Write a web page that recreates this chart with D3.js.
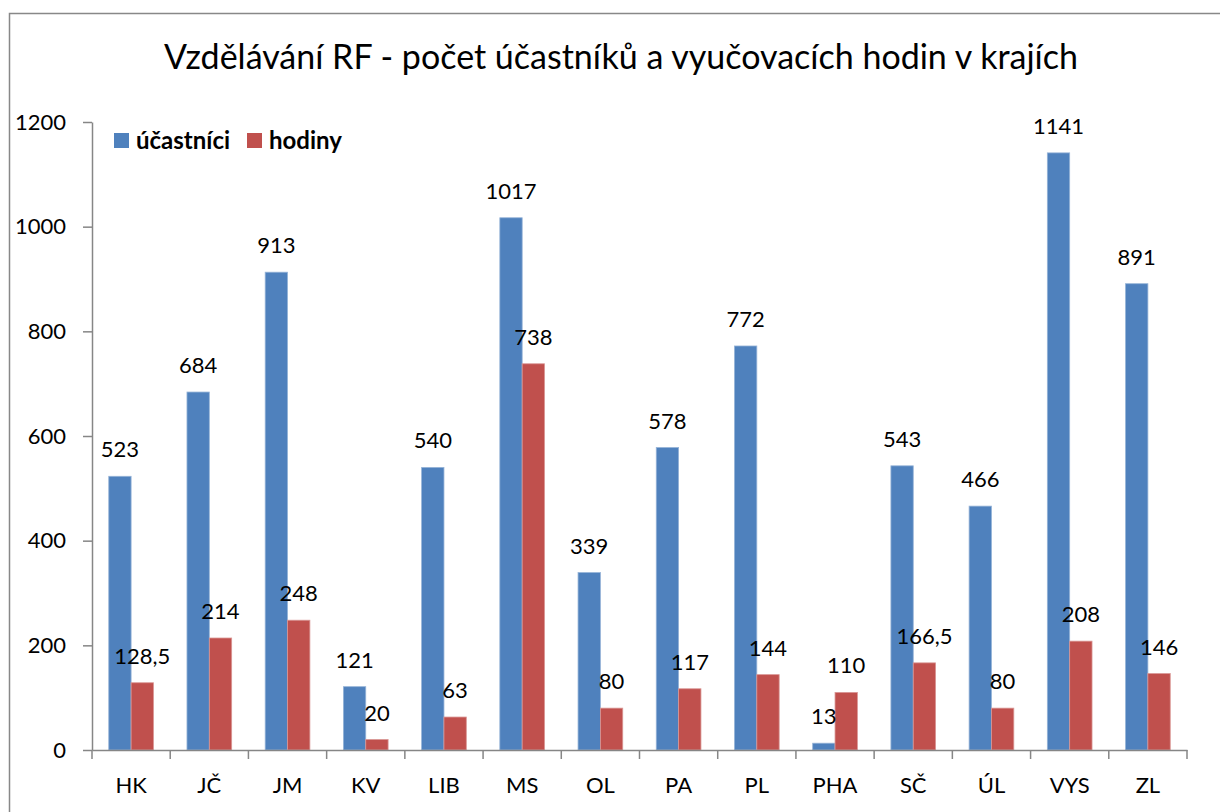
<!DOCTYPE html>
<html>
<head>
<meta charset="utf-8">
<script src="https://cdn.jsdelivr.net/npm/d3@7"></script>
<style>
  body { margin: 0; background: #fff; }
  text { font-family: Lato, "Open Sans", sans-serif; }
</style>
</head>
<body>
<script>
  // data
  var kraje = ["HK", "JČ", "JM", "KV", "LIB", "MS", "OL", "PA", "PL", "PHA", "SČ", "ÚL", "VYS", "ZL"];
  var ucastnici = [523, 684, 913, 121, 540, 1017, 339, 578, 772, 13, 543, 466, 1141, 891];
  var hodiny = [128.5, 214, 248, 20, 63, 738, 80, 117, 144, 110, 166.5, 80, 208, 146];
  var yTicks = [0, 200, 400, 600, 800, 1000, 1200];
  var serie = ["účastníci", "hodiny"];
  var barvy = ["#4F81BD", "#C0504D"];

  var w = 1220, h = 812;
  var mLeft = 92, mRight = 1187, mTop = 122, mBottom = 750;

  var svg = d3.select("body").append("svg")
    .attr("width", w)
    .attr("height", h);

  // chart frame (cut off on the right and bottom)
  svg.append("rect")
    .attr("x", 9.5).attr("y", 13.5)
    .attr("width", 1230).attr("height", 820)
    .attr("fill", "none")
    .attr("stroke", "#888")
    .attr("stroke-width", 1.5);

  svg.append("text")
    .attr("x", 621).attr("y", 69)
    .attr("text-anchor", "middle")
    .attr("font-size", "34px")
    .attr("fill", "#000")
    .text("Vzdělávání RF - počet účastníků a vyučovacích hodin v krajích");

  var x = d3.scaleBand().domain(kraje).range([mLeft, mRight]);
  var y = d3.scaleLinear().domain([0, 1200]).range([mBottom, mTop]);
  var bw = x.bandwidth() / 3.5; // gap width 150%

  var rows = kraje.map(function(k, i) {
    return { kraj: k, vals: [ucastnici[i], hodiny[i]] };
  });

  var g = svg.selectAll("g.kraj")
    .data(rows)
    .enter().append("g")
    .attr("class", "kraj");

  g.selectAll("rect")
    .data(function(d) {
      return d.vals.map(function(v, j) { return { kraj: d.kraj, v: v, j: j }; });
    })
    .enter().append("rect")
    .attr("x", function(d) { return x(d.kraj) + x.bandwidth() / 2 - bw + d.j * bw; })
    .attr("y", function(d) { return y(d.v); })
    .attr("width", bw)
    .attr("height", function(d) { return y(0) - y(d.v); })
    .attr("fill", function(d) { return barvy[d.j]; })
    .attr("stroke", function(d) { return d.j ? "#d99694" : "#95b3d7"; })
    .attr("stroke-width", 0.8);

  var fmt = function(v) { return String(v).replace(".", ","); };

  g.selectAll("text.lbl")
    .data(function(d) {
      return d.vals.map(function(v, j) { return { kraj: d.kraj, v: v, j: j }; });
    })
    .enter().append("text")
    .attr("class", "lbl")
    .attr("x", function(d) { return x(d.kraj) + x.bandwidth() / 2 - bw / 2 + d.j * bw; })
    .attr("y", function(d) { return y(d.v) - 19; })
    .attr("text-anchor", "middle")
    .attr("font-size", "22px")
    .text(function(d) { return fmt(d.v); });

  // y axis
  var yAxis = svg.append("g")
    .attr("transform", "translate(" + mLeft + ",0)")
    .call(d3.axisLeft(y).tickValues(yTicks).tickFormat(d3.format("d")).tickSize(9).tickPadding(17).tickSizeOuter(0));
  yAxis.selectAll("text").attr("font-size", "22px").attr("fill", "#000").style("font-family", "Lato, sans-serif");

  // x axis
  var xAxis = svg.append("g")
    .attr("transform", "translate(0," + mBottom + ")")
    .call(d3.axisBottom(x).tickSize(0).tickPadding(27));
  xAxis.selectAll("text").attr("font-size", "22px").attr("fill", "#000").style("font-family", "Lato, sans-serif");
  xAxis.selectAll(".sep")
    .data(kraje.concat(["end"]))
    .enter().append("line")
    .attr("class", "sep")
    .attr("x1", function(d, i) { return mLeft + i * x.step(); })
    .attr("x2", function(d, i) { return mLeft + i * x.step(); })
    .attr("y1", 0).attr("y2", 9);

  svg.selectAll(".domain, .tick line, .sep")
    .attr("stroke", "#868686")
    .attr("stroke-width", 1.5);

  // legend
  var leg = svg.append("g").attr("transform", "translate(114,133)");
  var lx = [0, 133];
  serie.forEach(function(s, i) {
    leg.append("rect")
      .attr("x", lx[i]).attr("y", 0)
      .attr("width", 15).attr("height", 15)
      .attr("fill", barvy[i]);
    leg.append("text")
      .attr("x", lx[i] + 22).attr("y", 16)
      .attr("font-size", "24px")
      .attr("font-weight", "bold")
      .text(s);
  });
</script>
</body>
</html>
